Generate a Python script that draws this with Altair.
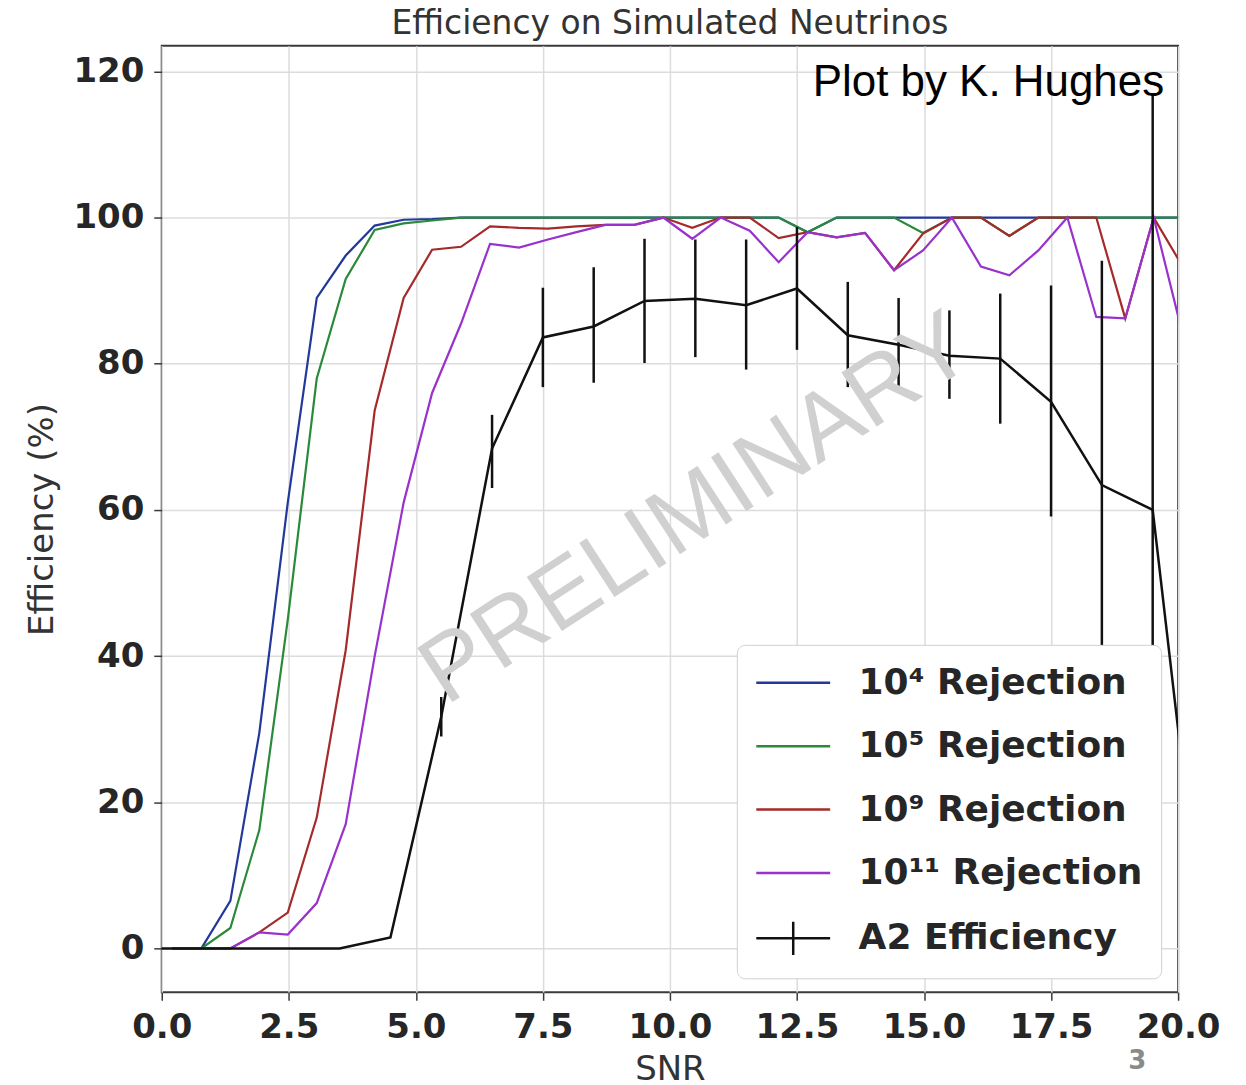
import altair as alt
import pandas as pd

# ---------------- data ----------------
snr_grid = [0.21, 0.78, 1.35, 1.92, 2.48, 3.05, 3.62, 4.19, 4.76, 5.32, 5.89, 6.46,
            7.03, 7.60, 8.16, 8.73, 9.30, 9.87, 10.44, 11.00, 11.57, 12.14, 12.71,
            13.28, 13.84, 14.41, 14.98, 15.55, 16.12, 16.68, 17.25, 17.82, 18.39,
            18.96, 19.52, 20.09]

rej_1e4 = [0, 0, 6.5, 29.5, 61, 89, 94.8, 98.9, 99.7, 99.8, 100, 100,
           100, 100, 100, 100, 100, 100, 100, 100, 100, 100, 98,
           100, 100, 100, 100, 100, 100, 100, 100, 100, 100,
           100, 100, 100]
rej_1e5 = [0, 0, 2.8, 16.2, 45, 78, 91.6, 98.3, 99.2, 99.6, 100, 100,
           100, 100, 100, 100, 100, 100, 100, 100, 100, 100, 98,
           100, 100, 100, 97.9, 100, 100, 97.5, 100, 100, 100,
           100, 100, 100]
rej_1e9 = [0, 0, 0, 2.2, 4.9, 17.9, 40.8, 73.6, 89, 95.6, 96, 98.8,
           98.6, 98.5, 98.8, 99, 99, 100, 98.6, 100, 100, 97.2, 98,
           97.3, 97.9, 92.8, 97.8, 100, 100, 97.5, 100, 100, 100,
           86.2, 100, 93.3]
rej_1e11 = [0, 0, 0, 2.2, 1.9, 6.2, 17, 40, 61, 76, 85.5, 96.4,
            95.9, 97, 98, 99, 99, 100, 97.1, 100, 98.2, 93.9, 98,
            97.3, 97.9, 92.8, 95.5, 100, 93.3, 92.1, 95.5, 100, 86.4,
            86.2, 100, 84]

a2_snr = [-0.5, 0.5, 1.5, 2.5, 3.5, 4.5, 5.5, 6.5, 7.5, 8.5, 9.5, 10.5, 11.5,
          12.5, 13.5, 14.5, 15.5, 16.5, 17.5, 18.5, 19.5, 20.5]
a2_eff = [0, 0, 0, 0, 0, 1.5, 31.7, 68.4, 83.6, 85.1, 88.6, 88.9, 88.0,
          90.3, 83.9, 82.6, 81.1, 80.7, 74.8, 63.4, 60.0, 0]
a2_low = [0, 0, 0, 0, 0, 1.5, 29.0, 63.0, 76.8, 77.4, 80.1, 80.9, 79.2,
          81.9, 76.8, 76.8, 75.2, 71.8, 59.1, 32.7, 3.0, 0]
a2_high = [0, 0, 0, 0, 0, 1.5, 34.4, 73.0, 90.4, 93.2, 97.1, 97.0, 97.0,
           98.7, 91.2, 89.0, 87.3, 89.6, 90.7, 94.1, 117.0, 0]

series_names = ["10⁴ Rejection", "10⁵ Rejection", "10⁹ Rejection",
                "10¹¹ Rejection", "A2 Efficiency"]
series_colors = ["#22399b", "#2a8a3a", "#a52a2a", "#9932cc", "#111111"]

x_ticks = [0, 2.5, 5, 7.5, 10, 12.5, 15, 17.5, 20]
y_ticks = [0, 20, 40, 60, 80, 100, 120]

# ---------------- tables ----------------
rows = []
for name, vals in zip(series_names[:4], [rej_1e4, rej_1e5, rej_1e9, rej_1e11]):
    for x, y in zip(snr_grid, vals):
        rows.append({"series": name, "snr": x, "eff": y})
rej_df = pd.DataFrame(rows)
a2_df = pd.DataFrame({"series": series_names[4], "snr": a2_snr, "eff": a2_eff,
                      "low": a2_low, "high": a2_high})
all_df = pd.concat([rej_df, a2_df[["series", "snr", "eff"]]], ignore_index=True)

FONT = "DejaVu Sans"

x_enc = alt.X("snr:Q", scale=alt.Scale(domain=[0, 20], nice=False, zero=False),
              axis=alt.Axis(values=x_ticks, format=".1f", title="SNR",
                            labelFlush=False, labelOverlap=False,
                            labelPadding=10, titlePadding=8))
y_enc = alt.Y("eff:Q", scale=alt.Scale(domain=[-6, 123.5], nice=False, zero=False),
              axis=alt.Axis(values=y_ticks, format="d", title="Efficiency (%)",
                            labelOverlap=False, labelPadding=10, titlePadding=13))

layers = []
for name, col in zip(series_names[:4], series_colors[:4]):
    layers.append(
        alt.Chart(rej_df).transform_filter(alt.datum.series == name)
        .mark_line(color=col, strokeWidth=2.2, clip=True)
        .encode(x=x_enc, y=y_enc, order="snr:Q")
    )

a2_line = alt.Chart(a2_df).mark_line(color="#111111", strokeWidth=2.5, clip=True).encode(
    x=x_enc, y=y_enc, order="snr:Q")
a2_err = alt.Chart(a2_df).transform_filter(alt.datum.high > alt.datum.low).mark_rule(
    color="#111111", strokeWidth=2.5, clip=True).encode(
    x=x_enc, y=alt.Y("low:Q"), y2=alt.Y2("high:Q"))

line_path = "M-1,0H3"
cross_path = "M-1,0H3M1,-0.9V0.9"
leg = alt.Legend(title=None, orient="none", legendX=576, legendY=600,
                 padding=18, cornerRadius=8, strokeColor="#d0d0d0", fillColor="#ffffff",
                 labelFont=FONT, labelFontWeight="bold", labelFontSize=36,
                 labelColor="#262626", labelLimit=500, labelOffset=64,
                 symbolSize=1369, symbolStrokeWidth=2.5, rowPadding=25.5)
legend_layer = alt.Chart(all_df).mark_point(filled=False, opacity=0, clip=True).encode(
    x=x_enc, y=y_enc,
    color=alt.Color("series:N", scale=alt.Scale(domain=series_names, range=series_colors),
                    legend=leg),
    shape=alt.Shape("series:N", scale=alt.Scale(domain=series_names,
                                                range=[line_path] * 4 + [cross_path]),
                    legend=leg),
)

watermark = alt.Chart(pd.DataFrame({"t": ["PRELIMINARY"]})).mark_text(
    font="Liberation Sans", fontSize=94, color="#d0d0d0", angle=327,
    align="center", baseline="middle").encode(
    text="t:N", x=alt.value(536), y=alt.value(465))

credit = alt.Chart(pd.DataFrame({"t": ["Plot by K. Hughes"]})).mark_text(
    font="Liberation Sans", fontSize=44, color="#000000",
    align="right", baseline="alphabetic").encode(
    text="t:N", x=alt.value(1004), y=alt.value(50))

page_no = alt.Chart(pd.DataFrame({"t": ["3"]})).mark_text(
    font=FONT, fontSize=26, fontWeight="bold", color="#8a8a8a",
    align="center", baseline="middle").encode(
    text="t:N", x=alt.value(977), y=alt.value(1017))

chart = alt.layer(*layers, a2_line, a2_err, legend_layer, watermark, credit, page_no).properties(
    width=1018, height=948,
    title=alt.TitleParams("Efficiency on Simulated Neutrinos", font=FONT, fontSize=33,
                          fontWeight="normal", color="#333333", offset=5,
                          anchor="middle"),
    autosize=alt.AutoSizeParams(type="none"),
    padding={"left": 154, "top": 37, "right": 60, "bottom": 92},
).configure_view(
    stroke="#3a3a3a", strokeWidth=2
).configure_axis(
    domain=False, ticks=True, tickColor="#3a3a3a", tickSize=8, tickWidth=1.5,
    grid=True, gridColor="#dcdcdc", gridWidth=1.5,
    labelFont=FONT, labelFontWeight="bold", labelFontSize=34, labelColor="#262626",
    titleFont=FONT, titleFontWeight="normal", titleFontSize=34, titleColor="#333333",
)

chart.save("out.html", embed_options={"renderer": "svg", "actions": False})
